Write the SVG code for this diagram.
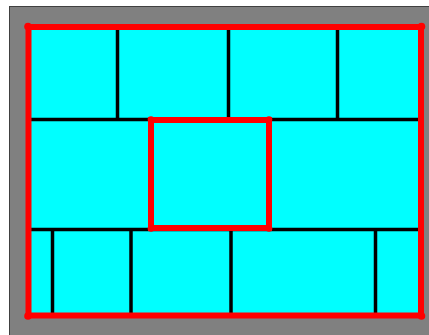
<svg xmlns="http://www.w3.org/2000/svg" width="429" height="335" viewBox="0 0 429 335">
<style>
.wall{stroke:#000;stroke-width:3.5;fill:none}
.red{stroke:#ff0000;stroke-width:6;fill:none}
.cap{fill:#ff0000}
</style>
<rect width="429" height="335" fill="#fff"/>
<rect x="9.5" y="6.5" width="425" height="335" fill="#808080" stroke="#404040" stroke-width="1"/>
<g id="floor">
<rect x="29" y="27" width="392" height="288" fill="#00ffff"/>
</g>
<g id="walls">
<line class="wall" x1="29" y1="119.5" x2="421" y2="119.5"/>
<line class="wall" x1="29" y1="229.5" x2="421" y2="229.5"/>
<line class="wall" x1="117.5" y1="27" x2="117.5" y2="119.5"/>
<line class="wall" x1="228.5" y1="27" x2="228.5" y2="119.5"/>
<line class="wall" x1="337.5" y1="27" x2="337.5" y2="119.5"/>
<line class="wall" x1="52.5" y1="229.5" x2="52.5" y2="315"/>
<line class="wall" x1="131" y1="229.5" x2="131" y2="315"/>
<line class="wall" x1="231" y1="229.5" x2="231" y2="315"/>
<line class="wall" x1="375.5" y1="229.5" x2="375.5" y2="315"/>
</g>
<g id="outer">
<rect class="red" x="28.5" y="27" width="392.5" height="288.5"/>
<circle class="cap" cx="28" cy="26.5" r="3.8"/>
<circle class="cap" cx="421.5" cy="26.5" r="3.8"/>
<circle class="cap" cx="28" cy="316" r="3.8"/>
<circle class="cap" cx="421.5" cy="316" r="3.8"/>
</g>
<g id="inner">
<rect class="red" x="151" y="120" width="118" height="108" stroke-width="5.5"/>
<circle class="cap" cx="151" cy="119.5" r="3.3"/>
<circle class="cap" cx="269" cy="119.5" r="3.3"/>
<circle class="cap" cx="151" cy="228.5" r="3.3"/>
<circle class="cap" cx="269" cy="228.5" r="3.3"/>
</g>
</svg>
